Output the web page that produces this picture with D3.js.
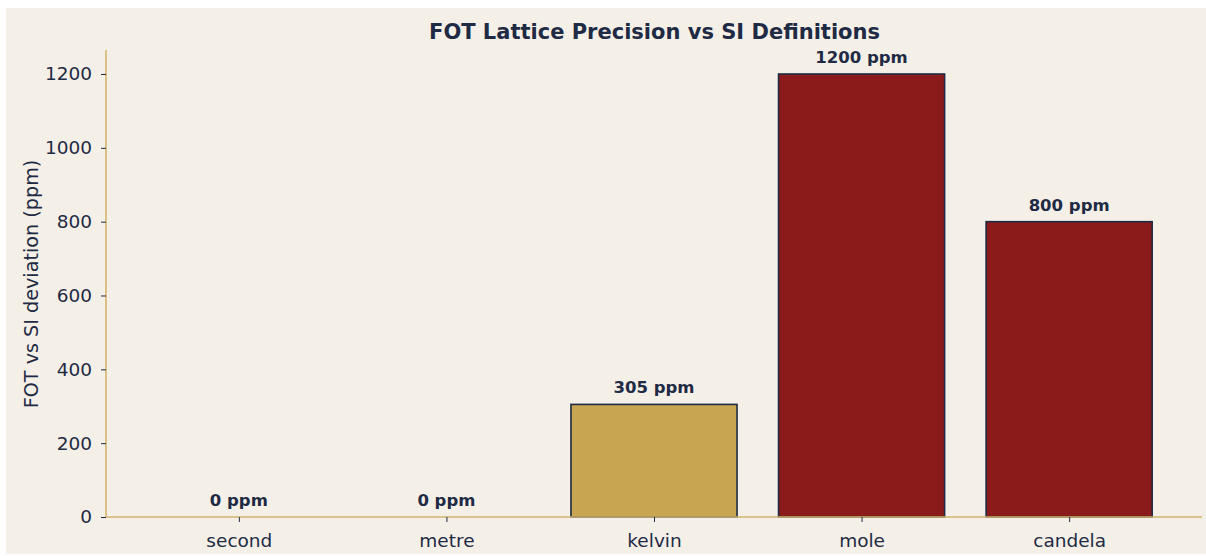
<!DOCTYPE html>
<html><head><meta charset="utf-8">
<script src="https://cdn.jsdelivr.net/npm/d3@7"></script>
<style>
html,body{margin:0;padding:0;background:#ffffff;}
svg{display:block;font-family:"DejaVu Sans",sans-serif;}
</style></head>
<body>
<script>
const categories = ["second","metre","kelvin","mole","candela"];
const values = [0, 0, 305, 1200, 800];
const barLabels = ["0 ppm","0 ppm","305 ppm","1200 ppm","800 ppm"];
const yTicks = [0,200,400,600,800,1000,1200];
const barColors = ["#c8a550","#c8a550","#c8a550","#8b1a1a","#8b1a1a"];

const W=1206,H=556;
const navy="#1f2a44", gold="#d4b56c";
const svg=d3.select("body").append("svg").attr("width",W).attr("height",H);
svg.append("rect").attr("x",6).attr("y",8).attr("width",W-6).attr("height",H-10).attr("fill","#f4f0e8");

const mL=106, mR=1202, mT=50, mB=517;
const x=d3.scaleLinear().domain([-0.64,4.64]).range([mL,mR]);
const y=d3.scaleLinear().domain([0,1265]).range([mB,mT]);
const bw=0.8;

const g=svg.append("g");
g.selectAll("rect.bar").data(values).join("rect").attr("class","bar")
 .attr("x",(d,i)=>x(i-bw/2)).attr("width",(d,i)=>x(i+bw/2)-x(i-bw/2))
 .attr("y",d=>y(d)).attr("height",d=>y(0)-y(d))
 .attr("fill",(d,i)=>barColors[i]).attr("stroke",navy).attr("stroke-width",1.6)
 .attr("stroke-opacity",(d)=>d===0?0.25:1);

g.selectAll("text.lbl").data(values).join("text").attr("class","lbl")
 .attr("x",(d,i)=>x(i)).attr("y",d=>y(d)-11)
 .attr("text-anchor","middle").attr("font-size",16.5).attr("font-weight","bold").attr("fill",navy)
 .text((d,i)=>barLabels[i]);

const yAxis=d3.axisLeft(y).tickValues(yTicks).tickSize(5).tickPadding(9).tickFormat(d3.format("d"));
const ya=svg.append("g").attr("transform",`translate(${mL},0)`).call(yAxis);
ya.select(".domain").attr("stroke",gold).attr("stroke-width",1.6).attr("d",`M0,${mT}V${mB}`);
ya.selectAll(".tick line").attr("stroke",navy);
ya.selectAll(".tick text").attr("fill",navy).attr("font-size",18.5).attr("font-family","DejaVu Sans");

const xAxis=d3.axisBottom(x).tickValues(d3.range(categories.length)).tickSize(5).tickPadding(12).tickFormat(i=>categories[i]);
const xa=svg.append("g").attr("transform",`translate(0,${mB})`).call(xAxis);
xa.select(".domain").attr("stroke",gold).attr("stroke-width",1.6).attr("d",`M${mL},0H${mR}`);
xa.selectAll(".tick line").attr("stroke",navy);
xa.selectAll(".tick text").attr("fill",navy).attr("font-size",18.5).attr("font-family","DejaVu Sans");

svg.append("text").attr("x",654.5).attr("y",39).attr("text-anchor","middle")
 .attr("font-size",21).attr("font-weight","bold").attr("fill",navy)
 .text("FOT Lattice Precision vs SI Definitions");
svg.append("text").attr("transform",`translate(38,284) rotate(-90)`)
 .attr("text-anchor","middle").attr("font-size",19.2).attr("fill",navy)
 .text("FOT vs SI deviation (ppm)");
</script>
</body></html>
